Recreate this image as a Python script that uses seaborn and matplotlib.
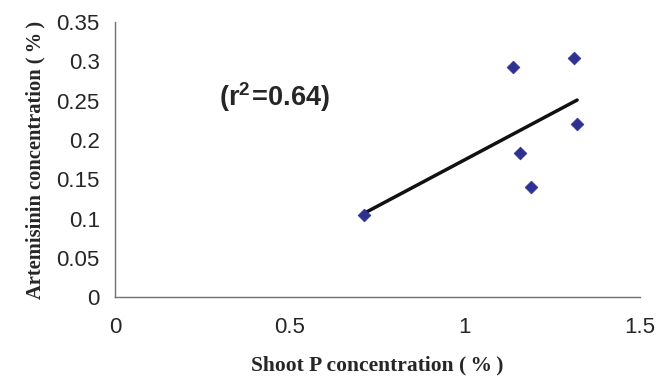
import numpy as np
import pandas as pd
import matplotlib
matplotlib.use("Agg")
import matplotlib.pyplot as plt
import seaborn as sns

# données
shoot_p = [0.711, 1.138, 1.158, 1.189, 1.312, 1.321]
artemisinin = [0.105, 0.293, 0.183, 0.140, 0.304, 0.220]
x_ticks = [0, 0.5, 1, 1.5]
y_ticks = [0, 0.05, 0.1, 0.15, 0.2, 0.25, 0.3, 0.35]
r2_label = r"$\mathbf{(r^2\!=\!0.64)}$"

df = pd.DataFrame({"shoot_p": shoot_p, "artemisinin": artemisinin})

sns.set_theme(style="white")
plt.rcParams["font.family"] = ["Liberation Sans", "DejaVu Sans"]
plt.rcParams["mathtext.fontset"] = "custom"
plt.rcParams["mathtext.bf"] = "Liberation Sans:bold"
plt.rcParams["mathtext.rm"] = "Liberation Sans"

fig = plt.figure(figsize=(6.65, 3.8), dpi=100)
ax = fig.add_axes([0.173, 0.218, 0.789, 0.724])

# droite de régression (tendance linéaire)
sns.regplot(data=df, x="shoot_p", y="artemisinin", ax=ax, ci=None, truncate=True,
            scatter=False, line_kws={"color": "#111111", "lw": 2.5})
sns.scatterplot(data=df, x="shoot_p", y="artemisinin", ax=ax, marker="D",
                s=42, color="#2E3192", edgecolor="#2E3192", zorder=3)

ax.set_xlim(0, 1.5)
ax.set_ylim(0, 0.35)
ax.set_xticks(x_ticks)
ax.set_xticklabels([f"{v:g}" for v in x_ticks])
ax.set_yticks(y_ticks)
ax.set_yticklabels([f"{v:g}" for v in y_ticks])
ax.tick_params(axis="both", which="major", direction="out", length=5, width=1,
               color="#707070", labelsize=16, pad=6)
ax.tick_params(axis="x", pad=9)

for side in ["top", "right"]:
    ax.spines[side].set_visible(False)
for side in ["left", "bottom"]:
    ax.spines[side].set_color("#707070")
    ax.spines[side].set_linewidth(1)

ax.set_xlabel("Shoot P concentration (\u2009%\u2009)", family=["Liberation Serif", "DejaVu Serif"],
              fontweight="bold", fontsize=15.5, labelpad=13)
ax.set_ylabel("Artemisinin concentration (\u2009%\u2009)", family=["Liberation Serif", "DejaVu Serif"],
              fontweight="bold", fontsize=14.8, labelpad=8)

ax.text(0.457, 0.255, r2_label, fontsize=19.5, ha="center", va="center")

fig.savefig("out.png", dpi=100)
